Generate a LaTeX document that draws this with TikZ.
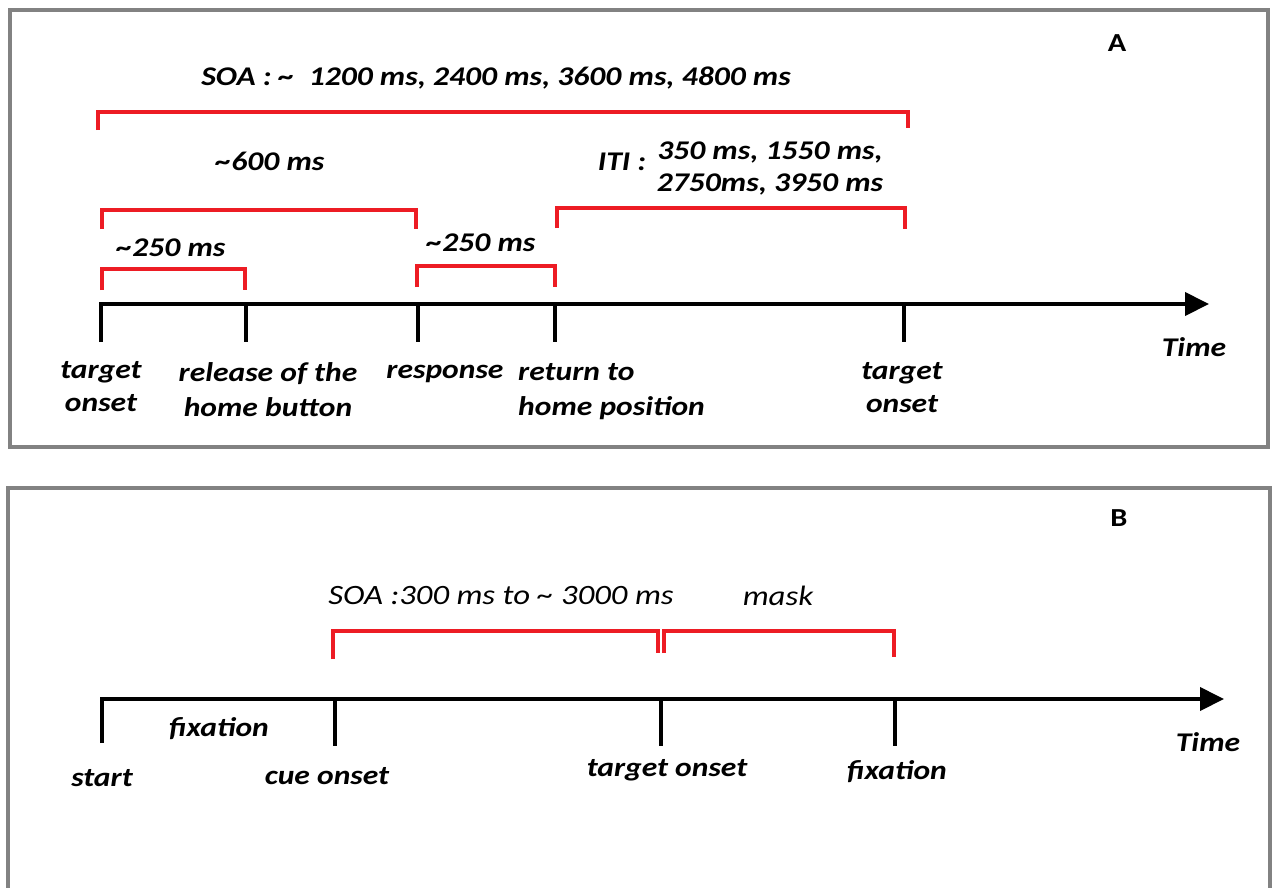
\documentclass[tikz,border=0pt]{standalone}
\usepackage{fontspec}
\setmainfont{Carlito}[FakeStretch=1.17]
\usetikzlibrary{arrows.meta}
\definecolor{bracketred}{RGB}{237,28,36}
\definecolor{framegray}{RGB}{130,130,130}
\begin{document}
\begin{tikzpicture}[x=1pt,y=-1pt,
  lbl/.style={font=\fontsize{27}{35}\selectfont\bfseries\itshape, inner sep=0pt, align=center},
  thinlbl/.style={font=\fontsize{28}{34}\selectfont\itshape, inner sep=0pt},
  panel/.style={font=\fontsize{26}{30}\selectfont\bfseries, inner sep=0pt},
  axis/.style={line width=4pt, line join=miter, -{Triangle[length=24pt,width=23pt]}},
  tick/.style={line width=4pt},
  span/.style={draw=bracketred, line width=4pt, line join=miter},
  frame/.style={draw=framegray, line width=4pt}]
\useasboundingbox (0,0) rectangle (1277,887);

% ---------- panel A ----------
\draw[frame] (10,10) rectangle (1268,447);
\node[panel] (labA) at (1117,43) {A};

% time axis with event ticks
\coordinate (a0) at (101,304);
\coordinate (a1) at (246,304);
\coordinate (a2) at (418,304);
\coordinate (a3) at (555,304);
\coordinate (a4) at (904,304);
\coordinate (aEnd) at (1209,304);
\draw[axis] ([yshift=-38pt]a0) -- (a0) -- (aEnd);
\foreach \t in {a1,a2,a3,a4} \draw[tick] (\t) -- ++(0,38);

\node[lbl, font=\fontsize{27}{33}\selectfont\bfseries\itshape] (tA0) at (101,387) {target\\onset};
\node[lbl] (tA1) at (268,390) {release of the\\home button};
\node[lbl] (tA2) at (445,374) {response};
\node[lbl, align=left, anchor=west] (tA3) at (518,392) {return to\\home position};
\node[lbl, font=\fontsize{27}{33}\selectfont\bfseries\itshape] (tA4) at (902,388) {target\\onset};
\node[lbl] (timeA) at (1194,347) {Time};

% interval brackets
\draw[span] (98,130) -- (98,112) -- (908,112) -- (908,128);
\node[lbl] (soaA) at (496,78) {SOA : \textasciitilde\ \ 1200 ms, 2400 ms, 3600 ms, 4800 ms};

\draw[span] (102,229) -- (102,210) -- (416,210) -- (416,229);
\node[lbl] (rt) at (270,161) {\textasciitilde600 ms};

\draw[span] (557,228) -- (557,208) -- (905,208) -- (905,229);
\node[lbl] (itiTag) at (622,162) {ITI :};
\node[lbl, font=\fontsize{27}{32}\selectfont\bfseries\itshape] (itiVals) at (770,168) {350 ms, 1550 ms,\\2750ms, 3950 ms};

\draw[span] (102,290) -- (102,269) -- (245,269) -- (245,290);
\node[lbl] (rel) at (171,248) {\textasciitilde250 ms};

\draw[span] (417,287) -- (417,266) -- (555,266) -- (555,287);
\node[lbl] (ret) at (481,243) {\textasciitilde250 ms};

% ---------- panel B ----------
\draw[frame] (8,900) -- (8,488) -- (1270,488) -- (1270,900);
\node[panel] (labB) at (1119,518) {B};

\coordinate (b0) at (102,699);
\coordinate (b1) at (335,699);
\coordinate (b2) at (661,699);
\coordinate (b3) at (895,699);
\coordinate (bEnd) at (1224,699);
\draw[axis] ([yshift=-44pt]b0) -- (b0) -- (bEnd);
\foreach \t in {b1,b2,b3} \draw[tick] (\t) -- ++(0,47);

\node[lbl] (tB0) at (102,778) {start};
\node[lbl] (fixB) at (219,729) {fixation};
\node[lbl] (tB1) at (327,776) {cue onset};
\node[lbl] (tB2) at (667,770) {target onset};
\node[lbl] (tB3) at (897,772) {fixation};
\node[lbl] (timeB) at (1208,742) {Time};

\draw[span] (333,659) -- (333,631) -- (658,631) -- (658,653);
\node[thinlbl] (soaB) at (501,596) {SOA :300 ms to \textasciitilde\ 3000 ms};

\draw[span] (664,653) -- (664,631) -- (894,631) -- (894,657);
\node[thinlbl] (mask) at (778,596) {mask};
\end{tikzpicture}
\end{document}
